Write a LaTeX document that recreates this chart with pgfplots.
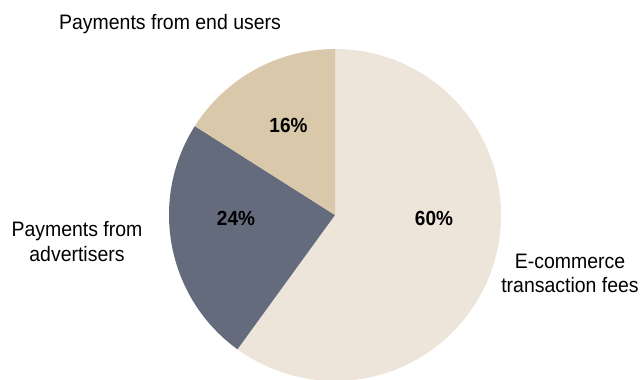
\documentclass[border=0pt]{standalone}
\usepackage{pgfplots}
\usepackage{pgfplotstable}
\pgfplotsset{compat=1.18}
\usepackage{fontspec}
\setmainfont{Liberation Sans}[FakeStretch=0.93]
\definecolor{ecom}{HTML}{EDE4DA}
\definecolor{adv}{HTML}{646B7D}
\definecolor{endu}{HTML}{D9C8A9}

\pgfplotstableread{
share
60
24
16
}\piedata

\begin{document}
\begin{tikzpicture}
\useasboundingbox (0,0) rectangle (640bp,380bp);
\pgfplotstablegetelem{0}{share}\of\piedata \let\sA\pgfplotsretval
\pgfplotstablegetelem{1}{share}\of\piedata \let\sB\pgfplotsretval
\pgfplotstablegetelem{2}{share}\of\piedata \let\sC\pgfplotsretval
\pgfmathsetmacro\aZ{90}
\pgfmathsetmacro\aA{\aZ-3.6*\sA}
\pgfmathsetmacro\aB{\aA-3.6*\sB}
\pgfmathsetmacro\aC{\aB-3.6*\sC}
\begin{axis}[
  at={(0,0)}, anchor=south west,
  width=640bp, height=380bp, scale only axis,
  xmin=0, xmax=640, ymin=0, ymax=380, y dir=reverse,
  hide axis, clip=false,
]
\fill[ecom] (axis cs:335,215) -- ++(\aZ:166bp) arc[start angle=\aZ, end angle=\aA, radius=166bp] -- cycle;
\fill[adv] (axis cs:335,215) -- ++(\aA:166bp) arc[start angle=\aA, end angle=\aB, radius=166bp] -- cycle;
\fill[endu] (axis cs:335,215) -- ++(\aB:166bp) arc[start angle=\aB, end angle=\aC, radius=166bp] -- cycle;

\node[anchor=base, font=\fontsize{20.5}{24}\selectfont\bfseries] at (axis cs:434,225) {\sA\%};
\node[anchor=base, font=\fontsize{20.5}{24}\selectfont\bfseries] at (axis cs:236,225) {\sB\%};
\node[anchor=base, font=\fontsize{20.5}{24}\selectfont\bfseries] at (axis cs:288.5,132) {\sC\%};

\node[anchor=base west, inner sep=0pt, font=\fontsize{21}{24}\selectfont] at (axis cs:59,29) {Payments from end users};
\node[anchor=base, inner sep=0pt, font=\fontsize{21}{24}\selectfont] at (axis cs:77,236) {Payments from};
\node[anchor=base, inner sep=0pt, font=\fontsize{21}{24}\selectfont] at (axis cs:77,261) {advertisers};
\node[anchor=base, inner sep=0pt, font=\fontsize{21}{24}\selectfont] at (axis cs:570,268) {E-commerce};
\node[anchor=base, inner sep=0pt, font=\fontsize{21}{24}\selectfont] at (axis cs:570,292) {transaction fees};
\end{axis}
\end{tikzpicture}
\end{document}
